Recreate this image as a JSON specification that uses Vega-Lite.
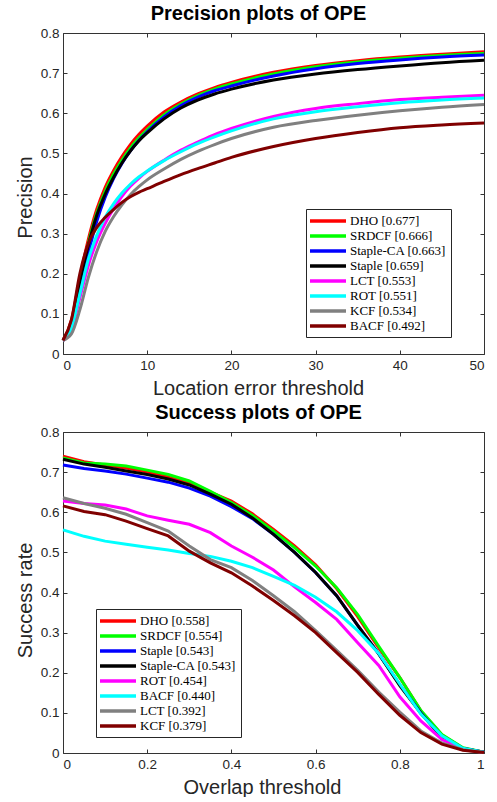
{
  "$schema": "https://vega.github.io/schema/vega-lite/v6.json",
  "background": "white",
  "padding": {"left": 15, "top": 4, "right": 0, "bottom": 0},
  "spacing": 78,
  "bounds": "flush",
  "resolve": {"scale": {"color": "independent"}, "legend": {"color": "independent"}},
  "config": {
    "view": {"stroke": null},
    "font": "Liberation Sans",
    "axis": {
      "grid": false, "domainColor": "#333333", "domainWidth": 1, "tickColor": "#333333", "tickSize": -4,
      "labelColor": "#262626", "labelFont": "Liberation Sans", "labelFontSize": 13.5, "labelPadding": 8,
      "titleFont": "Liberation Sans", "titleFontSize": 20, "titleFontWeight": "normal", "titleColor": "#262626",
      "format": "~f"
    },
    "title": {"font": "Liberation Sans", "fontSize": 20, "fontWeight": "bold", "color": "#000000", "anchor": "middle", "offset": 2, "baseline": "alphabetic", "dx": -15},
    "legend": {
      "orient": "none", "title": null, "symbolType": "M-3,0H3", "symbolSize": 144, "symbolStrokeWidth": 3.5,
      "symbolOffset": 10, "labelOffset": 14, "labelFont": "Liberation Serif", "labelFontSize": 13, "labelColor": "#000000",
      "labelLimit": 0, "padding": 4, "strokeColor": "#262626", "fillColor": "white", "rowPadding": 0,
      "encode": {"labels": {"update": {"fontWeight": {"signal": "indexof(datum.label, 'DHO') === 0 ? 'bold' : 'normal'"}}}}
    }
  },
  "vconcat": [
    {
      "width": 421, "height": 321,
      "title": {"text": "Precision plots of OPE"},
      "data": {"values": [
        {"t":"DHO [0.677]","x":0,"y":0.034},{"t":"DHO [0.677]","x":1,"y":0.085},{"t":"DHO [0.677]","x":2,"y":0.19},{"t":"DHO [0.677]","x":3,"y":0.285},{"t":"DHO [0.677]","x":4,"y":0.36},{"t":"DHO [0.677]","x":5,"y":0.415},{"t":"DHO [0.677]","x":6,"y":0.457},{"t":"DHO [0.677]","x":7,"y":0.492},{"t":"DHO [0.677]","x":8,"y":0.522},{"t":"DHO [0.677]","x":9,"y":0.547},{"t":"DHO [0.677]","x":10,"y":0.568},{"t":"DHO [0.677]","x":12,"y":0.603},{"t":"DHO [0.677]","x":14,"y":0.628},{"t":"DHO [0.677]","x":16,"y":0.648},{"t":"DHO [0.677]","x":18,"y":0.664},{"t":"DHO [0.677]","x":20,"y":0.677},{"t":"DHO [0.677]","x":25,"y":0.702},{"t":"DHO [0.677]","x":30,"y":0.719},{"t":"DHO [0.677]","x":35,"y":0.731},{"t":"DHO [0.677]","x":40,"y":0.74},{"t":"DHO [0.677]","x":45,"y":0.747},{"t":"DHO [0.677]","x":50,"y":0.753},
        {"t":"SRDCF [0.666]","x":0,"y":0.034},{"t":"SRDCF [0.666]","x":1,"y":0.08},{"t":"SRDCF [0.666]","x":2,"y":0.18},{"t":"SRDCF [0.666]","x":3,"y":0.275},{"t":"SRDCF [0.666]","x":4,"y":0.35},{"t":"SRDCF [0.666]","x":5,"y":0.405},{"t":"SRDCF [0.666]","x":6,"y":0.448},{"t":"SRDCF [0.666]","x":7,"y":0.483},{"t":"SRDCF [0.666]","x":8,"y":0.513},{"t":"SRDCF [0.666]","x":9,"y":0.538},{"t":"SRDCF [0.666]","x":10,"y":0.559},{"t":"SRDCF [0.666]","x":12,"y":0.596},{"t":"SRDCF [0.666]","x":14,"y":0.623},{"t":"SRDCF [0.666]","x":16,"y":0.644},{"t":"SRDCF [0.666]","x":18,"y":0.66},{"t":"SRDCF [0.666]","x":20,"y":0.673},{"t":"SRDCF [0.666]","x":25,"y":0.698},{"t":"SRDCF [0.666]","x":30,"y":0.716},{"t":"SRDCF [0.666]","x":35,"y":0.728},{"t":"SRDCF [0.666]","x":40,"y":0.737},{"t":"SRDCF [0.666]","x":45,"y":0.744},{"t":"SRDCF [0.666]","x":50,"y":0.749},
        {"t":"Staple-CA [0.663]","x":0,"y":0.034},{"t":"Staple-CA [0.663]","x":1,"y":0.072},{"t":"Staple-CA [0.663]","x":2,"y":0.16},{"t":"Staple-CA [0.663]","x":3,"y":0.25},{"t":"Staple-CA [0.663]","x":4,"y":0.33},{"t":"Staple-CA [0.663]","x":5,"y":0.39},{"t":"Staple-CA [0.663]","x":6,"y":0.437},{"t":"Staple-CA [0.663]","x":7,"y":0.475},{"t":"Staple-CA [0.663]","x":8,"y":0.506},{"t":"Staple-CA [0.663]","x":9,"y":0.532},{"t":"Staple-CA [0.663]","x":10,"y":0.554},{"t":"Staple-CA [0.663]","x":12,"y":0.591},{"t":"Staple-CA [0.663]","x":14,"y":0.619},{"t":"Staple-CA [0.663]","x":16,"y":0.64},{"t":"Staple-CA [0.663]","x":18,"y":0.656},{"t":"Staple-CA [0.663]","x":20,"y":0.668},{"t":"Staple-CA [0.663]","x":25,"y":0.693},{"t":"Staple-CA [0.663]","x":30,"y":0.711},{"t":"Staple-CA [0.663]","x":35,"y":0.724},{"t":"Staple-CA [0.663]","x":40,"y":0.733},{"t":"Staple-CA [0.663]","x":45,"y":0.74},{"t":"Staple-CA [0.663]","x":50,"y":0.745},
        {"t":"Staple [0.659]","x":0,"y":0.034},{"t":"Staple [0.659]","x":1,"y":0.078},{"t":"Staple [0.659]","x":2,"y":0.18},{"t":"Staple [0.659]","x":3,"y":0.27},{"t":"Staple [0.659]","x":4,"y":0.345},{"t":"Staple [0.659]","x":5,"y":0.398},{"t":"Staple [0.659]","x":6,"y":0.44},{"t":"Staple [0.659]","x":7,"y":0.476},{"t":"Staple [0.659]","x":8,"y":0.506},{"t":"Staple [0.659]","x":9,"y":0.531},{"t":"Staple [0.659]","x":10,"y":0.551},{"t":"Staple [0.659]","x":12,"y":0.586},{"t":"Staple [0.659]","x":14,"y":0.613},{"t":"Staple [0.659]","x":16,"y":0.633},{"t":"Staple [0.659]","x":18,"y":0.648},{"t":"Staple [0.659]","x":20,"y":0.66},{"t":"Staple [0.659]","x":25,"y":0.683},{"t":"Staple [0.659]","x":30,"y":0.698},{"t":"Staple [0.659]","x":35,"y":0.709},{"t":"Staple [0.659]","x":40,"y":0.718},{"t":"Staple [0.659]","x":45,"y":0.726},{"t":"Staple [0.659]","x":50,"y":0.732},
        {"t":"LCT [0.553]","x":0,"y":0.034},{"t":"LCT [0.553]","x":1,"y":0.06},{"t":"LCT [0.553]","x":2,"y":0.14},{"t":"LCT [0.553]","x":3,"y":0.22},{"t":"LCT [0.553]","x":4,"y":0.28},{"t":"LCT [0.553]","x":5,"y":0.325},{"t":"LCT [0.553]","x":6,"y":0.362},{"t":"LCT [0.553]","x":7,"y":0.393},{"t":"LCT [0.553]","x":8,"y":0.418},{"t":"LCT [0.553]","x":9,"y":0.438},{"t":"LCT [0.553]","x":10,"y":0.455},{"t":"LCT [0.553]","x":12,"y":0.483},{"t":"LCT [0.553]","x":14,"y":0.508},{"t":"LCT [0.553]","x":16,"y":0.528},{"t":"LCT [0.553]","x":18,"y":0.547},{"t":"LCT [0.553]","x":20,"y":0.562},{"t":"LCT [0.553]","x":25,"y":0.592},{"t":"LCT [0.553]","x":30,"y":0.612},{"t":"LCT [0.553]","x":35,"y":0.624},{"t":"LCT [0.553]","x":40,"y":0.634},{"t":"LCT [0.553]","x":45,"y":0.64},{"t":"LCT [0.553]","x":50,"y":0.645},
        {"t":"ROT [0.551]","x":0,"y":0.034},{"t":"ROT [0.551]","x":1,"y":0.065},{"t":"ROT [0.551]","x":2,"y":0.15},{"t":"ROT [0.551]","x":3,"y":0.235},{"t":"ROT [0.551]","x":4,"y":0.295},{"t":"ROT [0.551]","x":5,"y":0.34},{"t":"ROT [0.551]","x":6,"y":0.374},{"t":"ROT [0.551]","x":7,"y":0.401},{"t":"ROT [0.551]","x":8,"y":0.423},{"t":"ROT [0.551]","x":9,"y":0.441},{"t":"ROT [0.551]","x":10,"y":0.456},{"t":"ROT [0.551]","x":12,"y":0.482},{"t":"ROT [0.551]","x":14,"y":0.504},{"t":"ROT [0.551]","x":16,"y":0.524},{"t":"ROT [0.551]","x":18,"y":0.541},{"t":"ROT [0.551]","x":20,"y":0.556},{"t":"ROT [0.551]","x":25,"y":0.586},{"t":"ROT [0.551]","x":30,"y":0.604},{"t":"ROT [0.551]","x":35,"y":0.616},{"t":"ROT [0.551]","x":40,"y":0.626},{"t":"ROT [0.551]","x":45,"y":0.633},{"t":"ROT [0.551]","x":50,"y":0.638},
        {"t":"KCF [0.534]","x":0,"y":0.034},{"t":"KCF [0.534]","x":1,"y":0.05},{"t":"KCF [0.534]","x":2,"y":0.11},{"t":"KCF [0.534]","x":3,"y":0.19},{"t":"KCF [0.534]","x":4,"y":0.255},{"t":"KCF [0.534]","x":5,"y":0.305},{"t":"KCF [0.534]","x":6,"y":0.342},{"t":"KCF [0.534]","x":7,"y":0.372},{"t":"KCF [0.534]","x":8,"y":0.397},{"t":"KCF [0.534]","x":9,"y":0.417},{"t":"KCF [0.534]","x":10,"y":0.434},{"t":"KCF [0.534]","x":12,"y":0.461},{"t":"KCF [0.534]","x":14,"y":0.485},{"t":"KCF [0.534]","x":16,"y":0.505},{"t":"KCF [0.534]","x":18,"y":0.522},{"t":"KCF [0.534]","x":20,"y":0.537},{"t":"KCF [0.534]","x":25,"y":0.565},{"t":"KCF [0.534]","x":30,"y":0.582},{"t":"KCF [0.534]","x":35,"y":0.595},{"t":"KCF [0.534]","x":40,"y":0.606},{"t":"KCF [0.534]","x":45,"y":0.615},{"t":"KCF [0.534]","x":50,"y":0.622},
        {"t":"BACF [0.492]","x":0,"y":0.034},{"t":"BACF [0.492]","x":1,"y":0.085},{"t":"BACF [0.492]","x":2,"y":0.2},{"t":"BACF [0.492]","x":3,"y":0.275},{"t":"BACF [0.492]","x":4,"y":0.315},{"t":"BACF [0.492]","x":5,"y":0.34},{"t":"BACF [0.492]","x":6,"y":0.36},{"t":"BACF [0.492]","x":7,"y":0.378},{"t":"BACF [0.492]","x":8,"y":0.392},{"t":"BACF [0.492]","x":9,"y":0.403},{"t":"BACF [0.492]","x":10,"y":0.412},{"t":"BACF [0.492]","x":12,"y":0.43},{"t":"BACF [0.492]","x":14,"y":0.447},{"t":"BACF [0.492]","x":16,"y":0.462},{"t":"BACF [0.492]","x":18,"y":0.476},{"t":"BACF [0.492]","x":20,"y":0.49},{"t":"BACF [0.492]","x":25,"y":0.517},{"t":"BACF [0.492]","x":30,"y":0.537},{"t":"BACF [0.492]","x":35,"y":0.552},{"t":"BACF [0.492]","x":40,"y":0.564},{"t":"BACF [0.492]","x":45,"y":0.571},{"t":"BACF [0.492]","x":50,"y":0.576}
      ]},
      "layer": [
        {
          "mark": {"type": "line", "strokeWidth": 3, "interpolate": "monotone"},
          "encoding": {
            "x": {"field": "x", "type": "quantitative", "scale": {"domain": [0, 50], "nice": false},
                  "axis": {"values": [0, 10, 20, 30, 40, 50], "title": "Location error threshold", "titleX": 195, "titleY": 40, "titleBaseline": "alphabetic"}},
            "y": {"field": "y", "type": "quantitative", "scale": {"domain": [0, 0.8], "nice": false},
                  "axis": {"values": [0, 0.1, 0.2, 0.3, 0.4, 0.5, 0.6, 0.7, 0.8], "title": "Precision", "titleX": -32, "titleY": 164, "titleBaseline": "alphabetic"}},
            "color": {"field": "t", "type": "nominal",
                      "scale": {"domain": ["DHO [0.677]", "SRDCF [0.666]", "Staple-CA [0.663]", "Staple [0.659]", "LCT [0.553]", "ROT [0.551]", "KCF [0.534]", "BACF [0.492]"],
                                "range": ["#ff0000", "#00ff00", "#0000ff", "#000000", "#ff00ff", "#00ffff", "#808080", "#800000"]},
                      "legend": {"legendX": 243, "legendY": 176}}
          }
        },
        {
          "mark": {"type": "point", "opacity": 0},
          "encoding": {
            "x": {"field": "x", "type": "quantitative", "axis": {"orient": "top", "values": [0, 10, 20, 30, 40, 50], "labels": false, "title": null}},
            "y": {"field": "y", "type": "quantitative", "axis": {"orient": "right", "values": [0, 0.1, 0.2, 0.3, 0.4, 0.5, 0.6, 0.7, 0.8], "labels": false, "title": null}}
          }
        }
      ],
      "resolve": {"axis": {"x": "independent", "y": "independent"}}
    },
    {
      "width": 421, "height": 321,
      "title": {"text": "Success plots of OPE"},
      "data": {"values": [
        {"t":"DHO [0.558]","x":0,"y":0.74},{"t":"DHO [0.558]","x":0.05,"y":0.726},{"t":"DHO [0.558]","x":0.1,"y":0.718},{"t":"DHO [0.558]","x":0.15,"y":0.71},{"t":"DHO [0.558]","x":0.2,"y":0.7},{"t":"DHO [0.558]","x":0.25,"y":0.688},{"t":"DHO [0.558]","x":0.3,"y":0.672},{"t":"DHO [0.558]","x":0.35,"y":0.65},{"t":"DHO [0.558]","x":0.4,"y":0.628},{"t":"DHO [0.558]","x":0.45,"y":0.596},{"t":"DHO [0.558]","x":0.5,"y":0.557},{"t":"DHO [0.558]","x":0.55,"y":0.516},{"t":"DHO [0.558]","x":0.6,"y":0.469},{"t":"DHO [0.558]","x":0.65,"y":0.41},{"t":"DHO [0.558]","x":0.7,"y":0.34},{"t":"DHO [0.558]","x":0.75,"y":0.262},{"t":"DHO [0.558]","x":0.8,"y":0.188},{"t":"DHO [0.558]","x":0.85,"y":0.105},{"t":"DHO [0.558]","x":0.9,"y":0.045},{"t":"DHO [0.558]","x":0.95,"y":0.012},{"t":"DHO [0.558]","x":1,"y":0.002},
        {"t":"SRDCF [0.554]","x":0,"y":0.735},{"t":"SRDCF [0.554]","x":0.05,"y":0.723},{"t":"SRDCF [0.554]","x":0.1,"y":0.72},{"t":"SRDCF [0.554]","x":0.15,"y":0.715},{"t":"SRDCF [0.554]","x":0.2,"y":0.705},{"t":"SRDCF [0.554]","x":0.25,"y":0.694},{"t":"SRDCF [0.554]","x":0.3,"y":0.678},{"t":"SRDCF [0.554]","x":0.35,"y":0.652},{"t":"SRDCF [0.554]","x":0.4,"y":0.624},{"t":"SRDCF [0.554]","x":0.45,"y":0.592},{"t":"SRDCF [0.554]","x":0.5,"y":0.553},{"t":"SRDCF [0.554]","x":0.55,"y":0.512},{"t":"SRDCF [0.554]","x":0.6,"y":0.466},{"t":"SRDCF [0.554]","x":0.65,"y":0.412},{"t":"SRDCF [0.554]","x":0.7,"y":0.345},{"t":"SRDCF [0.554]","x":0.75,"y":0.266},{"t":"SRDCF [0.554]","x":0.8,"y":0.188},{"t":"SRDCF [0.554]","x":0.85,"y":0.106},{"t":"SRDCF [0.554]","x":0.9,"y":0.046},{"t":"SRDCF [0.554]","x":0.95,"y":0.013},{"t":"SRDCF [0.554]","x":1,"y":0.002},
        {"t":"Staple [0.543]","x":0,"y":0.718},{"t":"Staple [0.543]","x":0.05,"y":0.709},{"t":"Staple [0.543]","x":0.1,"y":0.703},{"t":"Staple [0.543]","x":0.15,"y":0.695},{"t":"Staple [0.543]","x":0.2,"y":0.685},{"t":"Staple [0.543]","x":0.25,"y":0.675},{"t":"Staple [0.543]","x":0.3,"y":0.66},{"t":"Staple [0.543]","x":0.35,"y":0.64},{"t":"Staple [0.543]","x":0.4,"y":0.614},{"t":"Staple [0.543]","x":0.45,"y":0.584},{"t":"Staple [0.543]","x":0.5,"y":0.545},{"t":"Staple [0.543]","x":0.55,"y":0.5},{"t":"Staple [0.543]","x":0.6,"y":0.45},{"t":"Staple [0.543]","x":0.65,"y":0.392},{"t":"Staple [0.543]","x":0.7,"y":0.318},{"t":"Staple [0.543]","x":0.75,"y":0.247},{"t":"Staple [0.543]","x":0.8,"y":0.17},{"t":"Staple [0.543]","x":0.85,"y":0.1},{"t":"Staple [0.543]","x":0.9,"y":0.04},{"t":"Staple [0.543]","x":0.95,"y":0.011},{"t":"Staple [0.543]","x":1,"y":0.002},
        {"t":"Staple-CA [0.543]","x":0,"y":0.732},{"t":"Staple-CA [0.543]","x":0.05,"y":0.72},{"t":"Staple-CA [0.543]","x":0.1,"y":0.712},{"t":"Staple-CA [0.543]","x":0.15,"y":0.703},{"t":"Staple-CA [0.543]","x":0.2,"y":0.694},{"t":"Staple-CA [0.543]","x":0.25,"y":0.683},{"t":"Staple-CA [0.543]","x":0.3,"y":0.668},{"t":"Staple-CA [0.543]","x":0.35,"y":0.645},{"t":"Staple-CA [0.543]","x":0.4,"y":0.62},{"t":"Staple-CA [0.543]","x":0.45,"y":0.586},{"t":"Staple-CA [0.543]","x":0.5,"y":0.545},{"t":"Staple-CA [0.543]","x":0.55,"y":0.5},{"t":"Staple-CA [0.543]","x":0.6,"y":0.45},{"t":"Staple-CA [0.543]","x":0.65,"y":0.392},{"t":"Staple-CA [0.543]","x":0.7,"y":0.318},{"t":"Staple-CA [0.543]","x":0.75,"y":0.247},{"t":"Staple-CA [0.543]","x":0.8,"y":0.168},{"t":"Staple-CA [0.543]","x":0.85,"y":0.099},{"t":"Staple-CA [0.543]","x":0.9,"y":0.04},{"t":"Staple-CA [0.543]","x":0.95,"y":0.011},{"t":"Staple-CA [0.543]","x":1,"y":0.002},
        {"t":"ROT [0.454]","x":0,"y":0.628},{"t":"ROT [0.454]","x":0.05,"y":0.622},{"t":"ROT [0.454]","x":0.1,"y":0.618},{"t":"ROT [0.454]","x":0.15,"y":0.608},{"t":"ROT [0.454]","x":0.2,"y":0.591},{"t":"ROT [0.454]","x":0.25,"y":0.58},{"t":"ROT [0.454]","x":0.3,"y":0.57},{"t":"ROT [0.454]","x":0.35,"y":0.549},{"t":"ROT [0.454]","x":0.4,"y":0.516},{"t":"ROT [0.454]","x":0.45,"y":0.488},{"t":"ROT [0.454]","x":0.5,"y":0.456},{"t":"ROT [0.454]","x":0.55,"y":0.414},{"t":"ROT [0.454]","x":0.6,"y":0.375},{"t":"ROT [0.454]","x":0.65,"y":0.333},{"t":"ROT [0.454]","x":0.7,"y":0.275},{"t":"ROT [0.454]","x":0.75,"y":0.218},{"t":"ROT [0.454]","x":0.8,"y":0.14},{"t":"ROT [0.454]","x":0.85,"y":0.08},{"t":"ROT [0.454]","x":0.9,"y":0.034},{"t":"ROT [0.454]","x":0.95,"y":0.01},{"t":"ROT [0.454]","x":1,"y":0.001},
        {"t":"BACF [0.440]","x":0,"y":0.556},{"t":"BACF [0.440]","x":0.05,"y":0.54},{"t":"BACF [0.440]","x":0.1,"y":0.528},{"t":"BACF [0.440]","x":0.15,"y":0.52},{"t":"BACF [0.440]","x":0.2,"y":0.513},{"t":"BACF [0.440]","x":0.25,"y":0.506},{"t":"BACF [0.440]","x":0.3,"y":0.497},{"t":"BACF [0.440]","x":0.35,"y":0.49},{"t":"BACF [0.440]","x":0.4,"y":0.478},{"t":"BACF [0.440]","x":0.45,"y":0.462},{"t":"BACF [0.440]","x":0.5,"y":0.44},{"t":"BACF [0.440]","x":0.55,"y":0.418},{"t":"BACF [0.440]","x":0.6,"y":0.388},{"t":"BACF [0.440]","x":0.65,"y":0.352},{"t":"BACF [0.440]","x":0.7,"y":0.305},{"t":"BACF [0.440]","x":0.75,"y":0.248},{"t":"BACF [0.440]","x":0.8,"y":0.172},{"t":"BACF [0.440]","x":0.85,"y":0.097},{"t":"BACF [0.440]","x":0.9,"y":0.043},{"t":"BACF [0.440]","x":0.95,"y":0.012},{"t":"BACF [0.440]","x":1,"y":0.002},
        {"t":"LCT [0.392]","x":0,"y":0.636},{"t":"LCT [0.392]","x":0.05,"y":0.622},{"t":"LCT [0.392]","x":0.1,"y":0.61},{"t":"LCT [0.392]","x":0.15,"y":0.595},{"t":"LCT [0.392]","x":0.2,"y":0.574},{"t":"LCT [0.392]","x":0.25,"y":0.553},{"t":"LCT [0.392]","x":0.3,"y":0.516},{"t":"LCT [0.392]","x":0.35,"y":0.482},{"t":"LCT [0.392]","x":0.4,"y":0.462},{"t":"LCT [0.392]","x":0.45,"y":0.43},{"t":"LCT [0.392]","x":0.5,"y":0.392},{"t":"LCT [0.392]","x":0.55,"y":0.352},{"t":"LCT [0.392]","x":0.6,"y":0.305},{"t":"LCT [0.392]","x":0.65,"y":0.256},{"t":"LCT [0.392]","x":0.7,"y":0.206},{"t":"LCT [0.392]","x":0.75,"y":0.152},{"t":"LCT [0.392]","x":0.8,"y":0.102},{"t":"LCT [0.392]","x":0.85,"y":0.055},{"t":"LCT [0.392]","x":0.9,"y":0.025},{"t":"LCT [0.392]","x":0.95,"y":0.008},{"t":"LCT [0.392]","x":1,"y":0.001},
        {"t":"KCF [0.379]","x":0,"y":0.616},{"t":"KCF [0.379]","x":0.05,"y":0.602},{"t":"KCF [0.379]","x":0.1,"y":0.594},{"t":"KCF [0.379]","x":0.15,"y":0.578},{"t":"KCF [0.379]","x":0.2,"y":0.559},{"t":"KCF [0.379]","x":0.25,"y":0.541},{"t":"KCF [0.379]","x":0.3,"y":0.503},{"t":"KCF [0.379]","x":0.35,"y":0.474},{"t":"KCF [0.379]","x":0.4,"y":0.449},{"t":"KCF [0.379]","x":0.45,"y":0.416},{"t":"KCF [0.379]","x":0.5,"y":0.38},{"t":"KCF [0.379]","x":0.55,"y":0.342},{"t":"KCF [0.379]","x":0.6,"y":0.3},{"t":"KCF [0.379]","x":0.65,"y":0.25},{"t":"KCF [0.379]","x":0.7,"y":0.201},{"t":"KCF [0.379]","x":0.75,"y":0.146},{"t":"KCF [0.379]","x":0.8,"y":0.094},{"t":"KCF [0.379]","x":0.85,"y":0.051},{"t":"KCF [0.379]","x":0.9,"y":0.022},{"t":"KCF [0.379]","x":0.95,"y":0.007},{"t":"KCF [0.379]","x":1,"y":0.001}
      ]},
      "layer": [
        {
          "mark": {"type": "line", "strokeWidth": 3},
          "encoding": {
            "x": {"field": "x", "type": "quantitative", "scale": {"domain": [0, 1], "nice": false},
                  "axis": {"values": [0, 0.2, 0.4, 0.6, 0.8, 1], "title": "Overlap threshold", "titleX": 199, "titleY": 40, "titleBaseline": "alphabetic"}},
            "y": {"field": "y", "type": "quantitative", "scale": {"domain": [0, 0.8], "nice": false},
                  "axis": {"values": [0, 0.1, 0.2, 0.3, 0.4, 0.5, 0.6, 0.7, 0.8], "title": "Success rate", "titleX": -32, "titleY": 168, "titleBaseline": "alphabetic"}},
            "color": {"field": "t", "type": "nominal",
                      "scale": {"domain": ["DHO [0.558]", "SRDCF [0.554]", "Staple [0.543]", "Staple-CA [0.543]", "ROT [0.454]", "BACF [0.440]", "LCT [0.392]", "KCF [0.379]"],
                                "range": ["#ff0000", "#00ff00", "#0000ff", "#000000", "#ff00ff", "#00ffff", "#808080", "#800000"]},
                      "legend": {"legendX": 33, "legendY": 177}}
          }
        },
        {
          "mark": {"type": "point", "opacity": 0},
          "encoding": {
            "x": {"field": "x", "type": "quantitative", "axis": {"orient": "top", "values": [0, 0.2, 0.4, 0.6, 0.8, 1], "labels": false, "title": null}},
            "y": {"field": "y", "type": "quantitative", "axis": {"orient": "right", "values": [0, 0.1, 0.2, 0.3, 0.4, 0.5, 0.6, 0.7, 0.8], "labels": false, "title": null}}
          }
        }
      ],
      "resolve": {"axis": {"x": "independent", "y": "independent"}}
    }
  ]
}
